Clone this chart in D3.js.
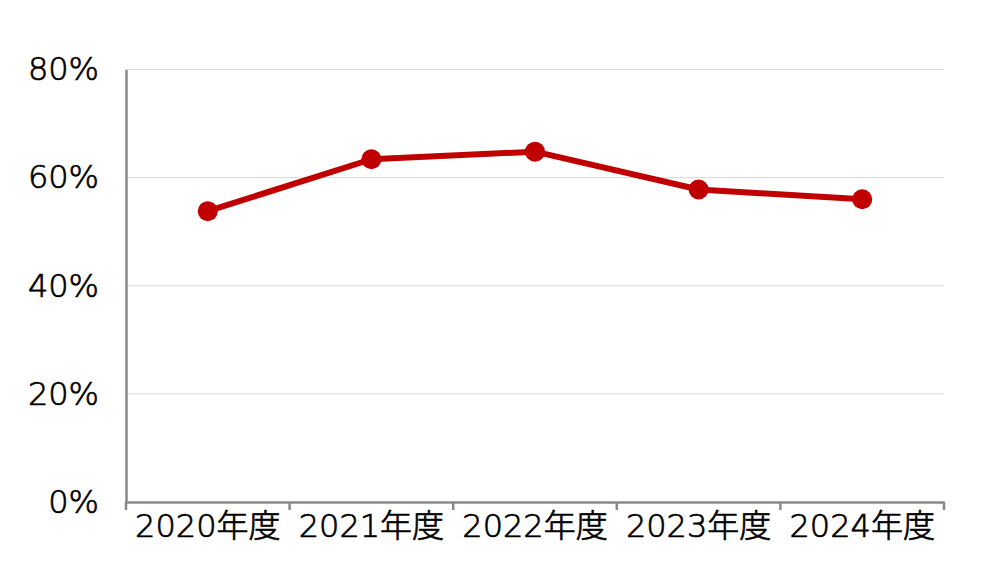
<!DOCTYPE html>
<html><head><meta charset="utf-8">
<script src="https://cdn.jsdelivr.net/npm/d3@7"></script>
<style>body{margin:0;background:#fff}svg{display:block}</style>
</head><body><svg id="c" width="1000" height="588"></svg>
<script>
const categories = ["2020年度","2021年度","2022年度","2023年度","2024年度"];
const values = [53.8, 63.4, 64.8, 57.8, 56.0];
const yTicks = [0, 20, 40, 60, 80];

const svg = d3.select("#c");
const m = {l:126, r:944, t:69.5, b:502};
const font = "'DejaVu Sans', 'Noto Sans CJK JP', sans-serif";

const x = d3.scaleBand().domain(categories).range([m.l, m.r]);
const y = d3.scaleLinear().domain([0, 80]).range([m.b, m.t]);

// gridlines
svg.append("g").selectAll("line").data(yTicks.filter(d=>d>0)).join("line")
  .attr("x1", m.l).attr("x2", m.r)
  .attr("y1", d=>y(d)).attr("y2", d=>y(d))
  .attr("stroke", "#d9d9d9").attr("stroke-width", 1);

function styleText(sel){
  sel.attr("font-family", font).attr("font-size", 32).attr("font-weight", 300)
    .attr("fill", "#000").attr("stroke", "#000").attr("stroke-width", 0.7);
}

// y axis
const yAxis = svg.append("g").attr("transform", `translate(${m.l},0)`)
  .call(d3.axisLeft(y).tickValues(yTicks).tickFormat(d=>d+"%").tickSize(0).tickPadding(27));
yAxis.select(".domain").attr("stroke", "#888").attr("stroke-width", 2.5);
yAxis.selectAll("text").call(styleText);
svg.append("line").attr("x1", m.l).attr("x2", m.l).attr("y1", m.b).attr("y2", m.b+8)
  .attr("stroke", "#888").attr("stroke-width", 2.5);

// x axis
const xAxis = svg.append("g").attr("transform", `translate(0,${m.b})`)
  .call(d3.axisBottom(x).tickSize(0).tickPadding(12));
xAxis.select(".domain").attr("stroke", "#888").attr("stroke-width", 2.5);
xAxis.selectAll("text").call(styleText);
// boundary ticks
const edges = categories.map(c=>x(c)).concat([x(categories[categories.length-1]) + x.bandwidth()]);
svg.append("g").selectAll("line").data(edges.slice(1)).join("line")
  .attr("x1", d=>d).attr("x2", d=>d).attr("y1", m.b).attr("y2", m.b+8)
  .attr("stroke", "#888").attr("stroke-width", 2.5);

// line
const cx = d => x(d) + x.bandwidth()/2;
const line = d3.line().x((d,i)=>cx(categories[i])).y(d=>y(d));
svg.append("path").datum(values).attr("d", line)
  .attr("fill", "none").attr("stroke", "#c00000").attr("stroke-width", 6).attr("stroke-linejoin", "round");
svg.append("g").selectAll("circle").data(values).join("circle")
  .attr("cx", (d,i)=>cx(categories[i])).attr("cy", d=>y(d)).attr("r", 10)
  .attr("fill", "#c00000");
</script></body></html>
